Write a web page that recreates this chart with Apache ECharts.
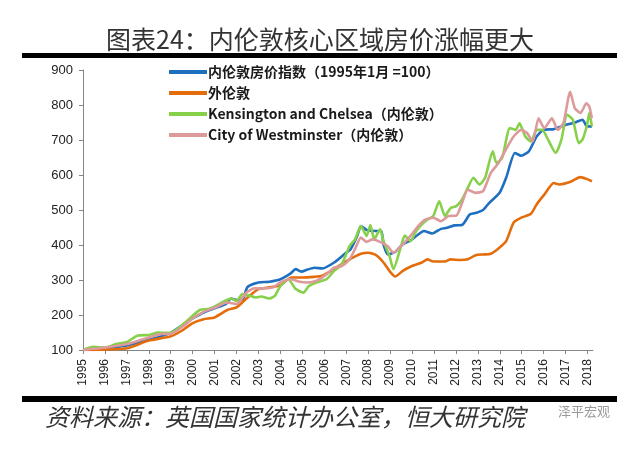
<!DOCTYPE html>
<html>
<head>
<meta charset="utf-8">
<script src="https://cdn.jsdelivr.net/npm/echarts@6/dist/echarts.min.js"></script>
<style>html,body{margin:0;padding:0;background:#fff}#c{width:640px;height:451px}</style>
</head>
<body>
<div id="c"></div>
<script>
const titleText = '图表24：内伦敦核心区域房价涨幅更大';
const sourceText = '资料来源：英国国家统计办公室，恒大研究院';
const seriesNames = ['内伦敦房价指数（1995年1月 =100）', '外伦敦', 'Kensington and Chelsea（内伦敦）', 'City of Westminster（内伦敦）'];
const seriesColors = ['#1f6fc0', '#e46c0a', '#86d04a', '#dd9a9a'];

const innerX = [1995,1996,1997,1998,1999,1999.5,2000,2000.5,2001,2001.5,2001.75,2002,2002.3,2002.5,2003,2003.5,2004,2004.45,2004.7,2004.95,2005.2,2005.55,2005.92,2006.45,2006.9,2007.2,2007.5,2007.67,2007.93,2008.36,2008.6,2008.7,2008.9,2009.23,2009.58,2009.93,2010.28,2010.54,2010.92,2011.32,2011.59,2011.93,2012.28,2012.63,2012.94,2013.24,2013.5,2013.99,2014.29,2014.69,2014.98,2015.33,2015.68,2015.99,2016.46,2016.99,2017.42,2017.77,2017.98,2018.2];
const innerY = [100,105,113,129,149,170,190,207,219,231,247,243,247,280,293,295,302,318,331,324,329,335,333,350,373,388,426,454,443,440,440,402,373,380,402,413,430,440,433,446,449,456,457,487,492,500,519,549,592,663,655,668,710,729,731,743,750,758,739,739];

const outerX = [1995,1996,1997,1998,1999,1999.5,2000,2000.5,2001,2001.6,2002,2002.5,2003,2003.5,2004,2004.5,2004.95,2005.55,2005.9,2006.45,2006.9,2007.3,2007.67,2008,2008.36,2008.7,2008.97,2009.23,2009.58,2009.93,2010.45,2010.7,2010.97,2011.5,2011.76,2012.2,2012.54,2012.9,2013.24,2013.59,2013.94,2014.29,2014.63,2014.98,2015.42,2015.68,2016.03,2016.46,2016.72,2017.16,2017.68,2017.95,2018.2];
const outerY = [100,101,105,127,139,155,177,188,193,215,222,250,274,279,285,307,307,309,312,331,350,364,375,378,371,350,326,310,326,338,350,359,353,353,359,357,359,371,373,375,390,411,464,478,489,516,544,577,573,579,594,589,582];

const kcX = [1995,1995.47,1996,1996.5,1997,1997.47,1998,1998.43,1999,1999.5,2000,2000.35,2000.7,2001.05,2001.4,2001.75,2002,2002.27,2002.6,2002.87,2003.13,2003.48,2003.75,2004,2004.36,2004.7,2005.05,2005.3,2005.75,2006.1,2006.45,2006.8,2007.15,2007.4,2007.67,2007.93,2008.1,2008.28,2008.54,2008.7,2008.97,2009.15,2009.5,2009.67,2009.93,2010.19,2010.45,2010.71,2010.97,2011.24,2011.5,2011.76,2012.02,2012.28,2012.54,2012.8,2013.07,2013.33,2013.68,2013.85,2014.11,2014.46,2014.72,2014.9,2015.16,2015.42,2015.68,2015.94,2016.2,2016.55,2016.81,2017.07,2017.33,2017.6,2017.77,2017.98,2018.08,2018.2];
const kcY = [100,109,107,117,123,141,143,150,149,170,198,215,217,226,238,247,240,260,255,250,253,247,255,283,302,274,264,283,295,302,326,345,397,416,454,426,457,416,445,411,369,331,397,427,411,440,459,473,483,525,483,506,511,530,563,592,573,592,668,634,649,734,729,748,710,696,729,729,701,663,701,772,758,691,701,743,777,739];

const wmX = [1995,1996,1997,1998,1998.6,1999,1999.5,2000,2000.5,2001.05,2001.57,2002,2002.45,2002.8,2003.3,2003.66,2004,2004.45,2004.88,2005.2,2005.65,2006.1,2006.45,2006.8,2007.15,2007.4,2007.67,2007.93,2008.2,2008.54,2008.88,2009.15,2009.5,2009.93,2010.28,2010.63,2010.97,2011.32,2011.67,2012.02,2012.28,2012.54,2012.9,2013.24,2013.59,2013.94,2014.29,2014.63,2014.98,2015.24,2015.5,2015.77,2016.03,2016.38,2016.64,2016.9,2017.21,2017.42,2017.68,2017.95,2018.08,2018.2];
const wmY = [100,107,117,136,146,146,165,190,209,222,236,231,264,276,276,279,293,302,295,293,298,316,335,340,359,388,421,409,416,409,397,378,397,426,454,473,478,468,483,484,520,558,549,554,606,634,674,710,729,720,696,762,734,762,729,748,838,791,777,805,796,762];

const yearTicks = {min: 1995, max: 2018.25, interval: 1};
const valueTicks = {min: 100, max: 900, interval: 100};

function pairs(xs, ys) { return xs.map((x, i) => [x, ys[i]]); }
const seriesData = [pairs(innerX, innerY), pairs(outerX, outerY), pairs(kcX, kcY), pairs(wmX, wmY)];

const chart = echarts.init(document.getElementById('c'), null, {renderer: 'canvas'});
const cjk = "'Noto Sans CJK SC', 'Noto Sans', sans-serif";
chart.setOption({
  backgroundColor: '#ffffff',
  animation: false,
  title: {
    text: titleText, left: 'center', top: 22,
    textStyle: {fontFamily: cjk, fontSize: 25, fontWeight: 'normal', color: '#333'}
  },
  graphic: [
    {type: 'rect', shape: {x: 22, y: 53, width: 595, height: 5}, style: {fill: '#000'}},
    {type: 'rect', shape: {x: 22, y: 396, width: 595, height: 6}, style: {fill: '#000'}},
    {type: 'text', left: 45, top: 405, style: {text: sourceText, font: "italic 24px 'Noto Sans CJK SC'", fill: '#333'}},
    {type: 'text', left: 558, top: 405, style: {text: '泽平宏观', font: "13px 'Noto Sans CJK SC'", fill: '#9a9a9a'}}
  ],
  legend: {
    data: seriesNames, orient: 'vertical', left: 164, top: 60,
    itemWidth: 38, itemHeight: 4, itemGap: 7, icon: 'rect',
    textStyle: {fontFamily: cjk, fontSize: 14, fontWeight: 'bold', color: '#1a1a1a', padding: [0, 0, 0, -4]}
  },
  grid: {left: 83, right: 47, top: 70, bottom: 101, containLabel: false},
  xAxis: {
    type: 'value', min: yearTicks.min, max: yearTicks.max, interval: yearTicks.interval,
    axisLine: {lineStyle: {color: '#868686'}},
    axisTick: {lineStyle: {color: '#868686'}, length: 4},
    splitLine: {show: false},
    axisLabel: {
      rotate: 90, color: '#222', fontFamily: 'Liberation Sans, sans-serif', fontSize: 12, margin: 9,
      showMaxLabel: false,
      formatter: v => (Math.abs(v - Math.round(v)) < 1e-6 ? String(Math.round(v)) : '')
    }
  },
  yAxis: {
    type: 'value', min: valueTicks.min, max: valueTicks.max, interval: valueTicks.interval,
    axisLine: {show: true, lineStyle: {color: '#868686'}},
    axisTick: {show: true, lineStyle: {color: '#868686'}, length: 4},
    splitLine: {show: false},
    axisLabel: {color: '#222', fontFamily: 'Liberation Sans, sans-serif', fontSize: 13, margin: 10}
  },
  series: seriesNames.map((n, i) => ({
    name: n, type: 'line', data: seriesData[i], showSymbol: false, smooth: 0.2,
    lineStyle: {width: 2.6, color: seriesColors[i]}, itemStyle: {color: seriesColors[i]}, z: 2 + i
  }))
});
</script>
</body>
</html>
